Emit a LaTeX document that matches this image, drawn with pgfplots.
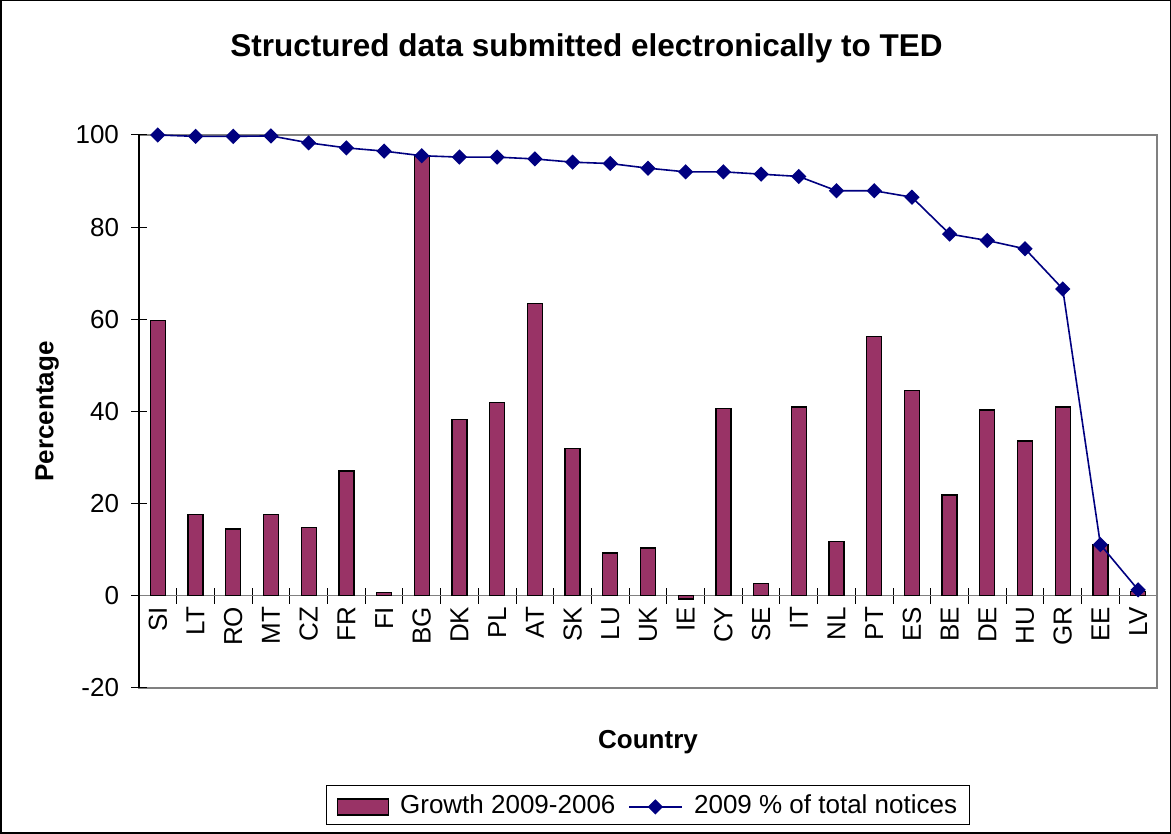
\documentclass[border=0pt]{standalone}
\usepackage{fontspec}
\setmainfont{Liberation Sans}
\usepackage{pgfplots}
\usepackage{pgfplotstable}
\pgfplotsset{compat=1.18}

\definecolor{barplum}{HTML}{993366}
\definecolor{linenavy}{HTML}{000080}

\pgfplotsset{
  tedbar legend/.style={legend image code/.code={\draw[##1] (0pt,-10pt) rectangle (51pt,6pt);}},
  tedline legend/.style={legend image code/.code={\draw[mark repeat=2, mark phase=2, ##1]
    plot coordinates {(0pt,-2pt) (26pt,-2pt) (53pt,-2pt)};}},
}

% idx, growth 2009-2006, 2009 share of total notices
\pgfplotstableread{
idx growth share
0  59.7  100.0
1  17.7  99.7
2  14.5  99.7
3  17.7  99.8
4  14.9  98.3
5  27.1  97.2
6  0.65  96.5
7  95.5  95.5
8  38.2  95.2
9  42.0  95.2
10 63.5  94.8
11 31.9  94.1
12 9.3   93.8
13 10.4  92.8
14 -0.7  92.0
15 40.6  92.0
16 2.75  91.5
17 41.0  91.0
18 11.8  87.9
19 56.2  87.9
20 44.5  86.5
21 21.9  78.5
22 40.3  77.1
23 33.6  75.3
24 41.0  66.6
25 11.1  11.1
26 1.0   1.3
}\tedtable

\newcommand{\txt}{\fontsize{26}{31}\selectfont}

\begin{document}
\begin{tikzpicture}[x=1pt,y=1pt]
\useasboundingbox (0,0) rectangle (1171,834);
\draw[line width=1.5pt] (0.75,0.75) rectangle (1170.25,833.25);

% plot area frame
\begin{axis}[
  at={(139pt,146pt)}, anchor=south west,
  scale only axis, width=1018pt, height=553pt,
  xmin=-0.5, xmax=26.5, ymin=-20, ymax=100,
  ticks=none,
  axis line style={draw=gray, line width=1.3pt},
]
\end{axis}

\begin{axis}[
  at={(139pt,146pt)}, anchor=south west,
  scale only axis, width=1018pt, height=553pt,
  xmin=-0.5, xmax=26.5, ymin=-20, ymax=100,
  axis x line*=middle, axis y line*=left,
  x axis line style={draw=gray, line width=1.3pt},
  y axis line style={draw=black, line width=1.3pt},
  xtick={0,...,26},
  xticklabels={SI,LT,RO,MT,CZ,FR,FI,BG,DK,PL,AT,SK,LU,UK,IE,CY,SE,IT,NL,PT,ES,BE,DE,HU,GR,EE,LV},
  every major x tick/.style={draw=none},
  minor xtick={0.5,1.5,...,25.5},
  ytick={-20,0,20,40,60,80,100},
  tick align=center,
  major tick length=15pt, minor tick length=16pt,
  every tick/.style={draw=black, line width=1pt},
  /pgf/number format/assume math mode=true,
  tick label style={font=\txt},
  xticklabel style={rotate=90, anchor=east},
  yticklabel style={anchor=east, xshift=-9pt},
  title={Structured data submitted electronically to TED},
  title style={at={(axis description cs:0.4396,1.1307)}, anchor=base,
    font=\bfseries\fontsize{31.5}{38}\selectfont},
  xlabel={Country},
  xlabel style={at={(axis description cs:0.5,-0.1103)}, anchor=base,
    font=\bfseries\txt},
  ylabel={Percentage},
  ylabel style={at={(axis description cs:-0.084,0.5)}, anchor=base,
    rotate=0, font=\bfseries\txt},
  legend columns=2,
  legend style={at={(axis description cs:0.5,-0.2114)}, anchor=center,
    draw=black, line width=1pt, font=\txt,
    inner xsep=10pt, inner ysep=7pt,
    /tikz/every odd column/.append style={column sep=9pt},
    /tikz/every even column/.append style={column sep=11pt}},
]
\addplot[ybar, bar width=15pt, fill=barplum, draw=black, line width=1.3pt,
  tedbar legend]
  table[x=idx, y=growth] {\tedtable};
\addplot[color=linenavy, line width=1.6pt, mark=square*, mark size=4.6pt,
  mark options={rotate=45, solid}, tedline legend]
  table[x=idx, y=share] {\tedtable};
\legend{Growth 2009-2006, 2009 \% of total notices}
\end{axis}
\end{tikzpicture}
\end{document}
